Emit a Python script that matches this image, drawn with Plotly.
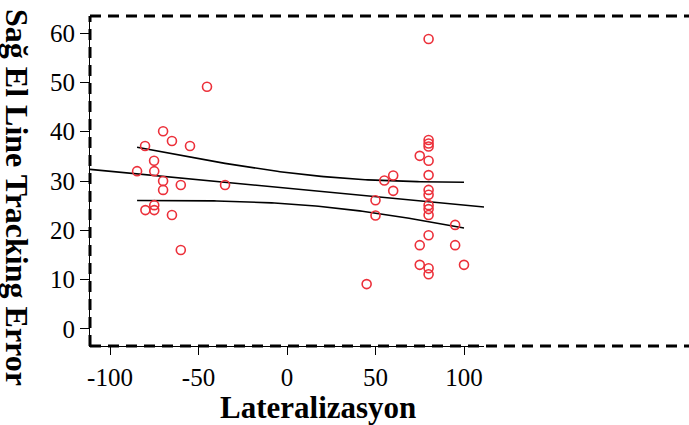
import numpy as np
import plotly.graph_objects as go

# Data
lateralizasyon = [-80.2, -70, -65, -54.8, -45.2, -84.7, -75.1, -75, -70, -70, -60, -35,
                  -80, -75, -75, -65, -60,
                  80, 80, 80, 80, 75, 80, 60, 80, 55, 60, 80, 80, 50, 80, 80, 80, 50,
                  95, 80, 75, 95, 75, 80, 80, 100, 45]
sag_el_error = [37.1, 40.1, 38.1, 37.1, 49.1, 32.0, 34.1, 32.0, 30.0, 28.2, 29.2, 29.2,
                24.1, 25.1, 24.1, 23.1, 16.0,
                58.8, 38.3, 37.6, 37.0, 35.1, 34.1, 31.1, 31.2, 30.1, 28.0, 28.2, 27.2, 26.1,
                25.1, 24.3, 23.1, 23.0, 21.1, 19.0, 17.0, 17.0, 13.0, 12.3, 11.1, 13.0, 9.1]
x_ticks = [-100, -50, 0, 50, 100]
y_ticks = [0, 10, 20, 30, 40, 50, 60]
x_range = [-111.3, 111.3]
y_range = [-3.45, 63.45]

# Linear fit with 95% confidence band for the mean
x = np.array(lateralizasyon, dtype=float)
y = np.array(sag_el_error, dtype=float)
n = len(x)
slope, intercept = np.polyfit(x, y, 1)
xbar = x.mean()
sxx = ((x - xbar) ** 2).sum()
resid = y - (intercept + slope * x)
s = np.sqrt((resid ** 2).sum() / (n - 2))
t_crit = 2.0195
x_fit = np.array(x_range)
y_fit = intercept + slope * x_fit
x_ci = np.linspace(x.min(), x.max(), 120)
y_ci = intercept + slope * x_ci
hw = t_crit * s * np.sqrt(1.0 / n + (x_ci - xbar) ** 2 / sxx)

serif = "Liberation Serif, Times New Roman, serif"

fig = go.Figure()
fig.add_trace(go.Scatter(x=x_fit, y=y_fit, mode="lines",
                         line=dict(color="black", width=1.6), hoverinfo="skip"))
fig.add_trace(go.Scatter(x=x_ci, y=y_ci + hw, mode="lines",
                         line=dict(color="black", width=1.6), hoverinfo="skip"))
fig.add_trace(go.Scatter(x=x_ci, y=y_ci - hw, mode="lines",
                         line=dict(color="black", width=1.6), hoverinfo="skip"))
fig.add_trace(go.Scatter(x=lateralizasyon, y=sag_el_error, mode="markers",
                         marker=dict(symbol="circle-open", size=9,
                                     color="rgb(236,48,58)",
                                     line=dict(width=1.6, color="rgb(236,48,58)"))))

dash = "11px,7px"
shapes = [
    dict(type="line", xref="paper", yref="paper", x0=0, x1=1.6, y0=1, y1=1,
         line=dict(color="black", width=3, dash=dash)),
    dict(type="line", xref="paper", yref="paper", x0=0, x1=1.6, y0=0, y1=0,
         line=dict(color="black", width=3, dash=dash)),
    dict(type="line", xref="paper", yref="paper", x0=0, x1=0, y0=0, y1=1,
         line=dict(color="black", width=3, dash=dash)),
]

fig.update_layout(
    width=689, height=425,
    margin=dict(l=90, r=205, t=16, b=79, pad=0),
    plot_bgcolor="white", paper_bgcolor="white",
    showlegend=False,
    font=dict(family=serif, color="black"),
    shapes=shapes,
    xaxis=dict(range=x_range, tickvals=x_ticks, ticktext=[str(v) for v in x_ticks],
               ticks="outside", ticklen=8, tickwidth=1, tickcolor="black",
               showline=True, linecolor="black", linewidth=1,
               showgrid=False, zeroline=False, ticklabelstandoff=1,
               tickfont=dict(family=serif, size=25, color="black")),
    yaxis=dict(range=y_range, tickvals=y_ticks, ticktext=[str(v) for v in y_ticks],
               ticks="outside", ticklen=9, tickwidth=1, tickcolor="black",
               showline=True, linecolor="black", linewidth=1,
               showgrid=False, zeroline=False, ticklabelstandoff=0,
               tickfont=dict(family=serif, size=25, color="black")),
    annotations=[
        dict(text="<b>Lateralizasyon</b>", xref="paper", yref="paper",
             x=(318 - 90) / 394, y=(346 - 407) / 330, xanchor="center", yanchor="middle",
             showarrow=False, font=dict(family=serif, size=31, color="black")),
        dict(text="<b>Sağ El Line Tracking Error</b>", xref="paper", yref="paper",
             x=(17 - 90) / 394, y=(346 - 197) / 330, xanchor="center", yanchor="middle",
             textangle=90, showarrow=False,
             font=dict(family=serif, size=32, color="black")),
    ],
)

fig.write_html("out.html")
